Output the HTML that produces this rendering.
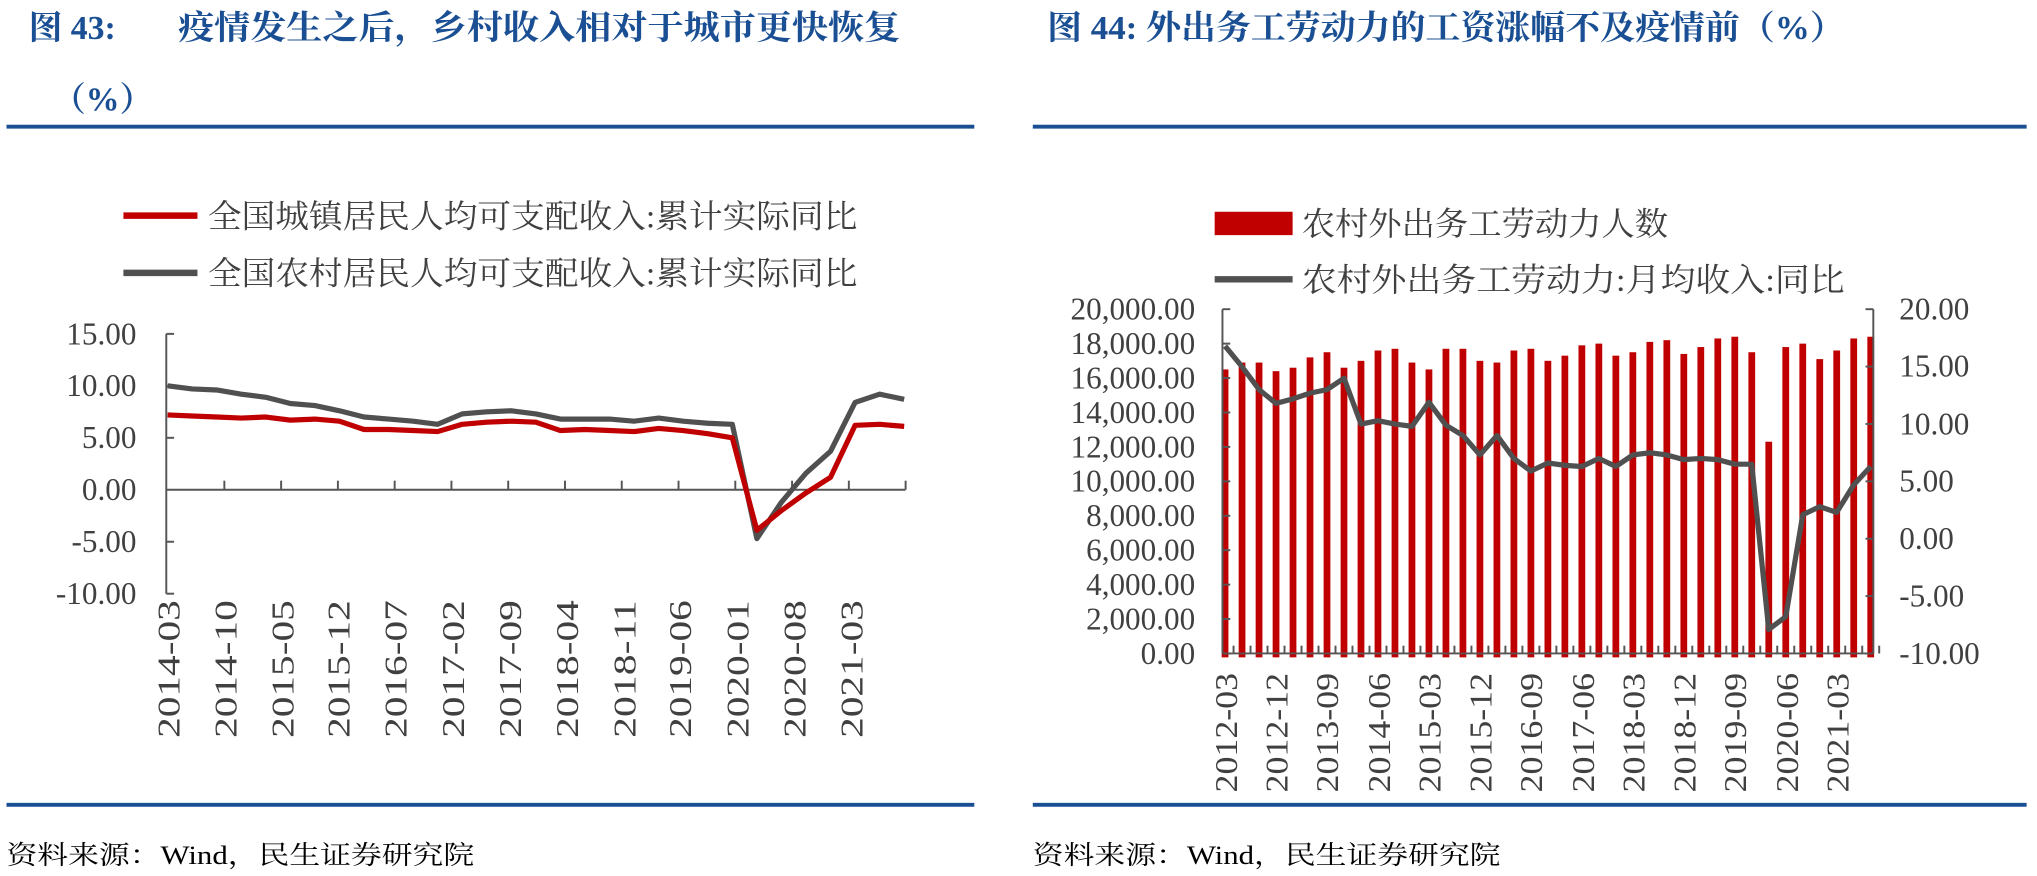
<!DOCTYPE html>
<html><head><meta charset="utf-8"><style>
html,body{margin:0;padding:0;background:#fff;}
svg{display:block;}
.t{font-family:"Liberation Serif","Noto Serif CJK SC","Noto Sans CJK SC",serif;font-weight:bold;fill:#1a4f94;}
.n{font-family:"Liberation Serif",serif;fill:#404040;font-size:24px;}
.c{font-family:"Liberation Serif","Noto Serif CJK SC","Noto Sans CJK SC",serif;fill:#404040;}
.s{font-family:"Liberation Serif","Noto Serif CJK SC","Noto Sans CJK SC",serif;fill:#000;font-size:20px;}
</style></head><body>
<svg width="2037" height="876" viewBox="0 0 1568 674.3" preserveAspectRatio="none" xmlns="http://www.w3.org/2000/svg">
<text class="t" x="22" y="30" font-size="26">图 43:</text>
<text class="t" x="137" y="30" font-size="26" textLength="556" lengthAdjust="spacingAndGlyphs">疫情发生之后，乡村收入相对于城市更快恢复</text>
<text class="t" x="40" y="85" font-size="26">（%）</text>
<rect x="5" y="96" width="745" height="3" fill="#1a4f94"/>
<text class="t" x="806" y="30" font-size="26" textLength="614" lengthAdjust="spacingAndGlyphs">图 44: 外出务工劳动力的工资涨幅不及疫情前（%）</text>
<rect x="795" y="96" width="765" height="3" fill="#1a4f94"/>
<rect x="5" y="618" width="745" height="3" fill="#1a4f94"/>
<rect x="795" y="618" width="765" height="3" fill="#1a4f94"/>
<text class="s" x="5" y="665" textLength="360" lengthAdjust="spacingAndGlyphs">资料来源：Wind，民生证券研究院</text>
<text class="s" x="795" y="665" textLength="360" lengthAdjust="spacingAndGlyphs">资料来源：Wind，民生证券研究院</text>

<line x1="95" y1="166" x2="152" y2="166" stroke="#c00000" stroke-width="5"/>
<text class="c" x="160" y="175" font-size="25" textLength="500" lengthAdjust="spacingAndGlyphs">全国城镇居民人均可支配收入:累计实际同比</text>
<line x1="95" y1="210" x2="152" y2="210" stroke="#505050" stroke-width="5"/>
<text class="c" x="160" y="219" font-size="25" textLength="500" lengthAdjust="spacingAndGlyphs">全国农村居民人均可支配收入:累计实际同比</text>

<g stroke="#555" stroke-width="1.5" fill="none">
<line x1="128" y1="257" x2="128" y2="457"/>
<line x1="128" y1="257" x2="134" y2="257"/><line x1="128" y1="297" x2="134" y2="297"/><line x1="128" y1="337" x2="134" y2="337"/><line x1="128" y1="417" x2="134" y2="417"/><line x1="128" y1="457" x2="134" y2="457"/>
<line x1="128" y1="377" x2="697" y2="377"/>
</g>
<g id="lticks" stroke="#555" stroke-width="1.5"></g>
<g class="n" text-anchor="end">
<text x="105" y="265">15.00</text><text x="105" y="305">10.00</text><text x="105" y="345">5.00</text><text x="105" y="385">0.00</text><text x="105" y="425">-5.00</text><text x="105" y="465">-10.00</text>
</g>
<g class="n">
<text transform="translate(138,568) rotate(-90)" textLength="106" lengthAdjust="spacingAndGlyphs">2014-03</text>
<text transform="translate(182,568) rotate(-90)" textLength="106" lengthAdjust="spacingAndGlyphs">2014-10</text>
<text transform="translate(226,568) rotate(-90)" textLength="106" lengthAdjust="spacingAndGlyphs">2015-05</text>
<text transform="translate(269,568) rotate(-90)" textLength="106" lengthAdjust="spacingAndGlyphs">2015-12</text>
<text transform="translate(313,568) rotate(-90)" textLength="106" lengthAdjust="spacingAndGlyphs">2016-07</text>
<text transform="translate(357,568) rotate(-90)" textLength="106" lengthAdjust="spacingAndGlyphs">2017-02</text>
<text transform="translate(401,568) rotate(-90)" textLength="106" lengthAdjust="spacingAndGlyphs">2017-09</text>
<text transform="translate(445,568) rotate(-90)" textLength="106" lengthAdjust="spacingAndGlyphs">2018-04</text>
<text transform="translate(489,568) rotate(-90)" textLength="106" lengthAdjust="spacingAndGlyphs">2018-11</text>
<text transform="translate(532,568) rotate(-90)" textLength="106" lengthAdjust="spacingAndGlyphs">2019-06</text>
<text transform="translate(576,568) rotate(-90)" textLength="106" lengthAdjust="spacingAndGlyphs">2020-01</text>
<text transform="translate(620,568) rotate(-90)" textLength="106" lengthAdjust="spacingAndGlyphs">2020-08</text>
<text transform="translate(664,568) rotate(-90)" textLength="106" lengthAdjust="spacingAndGlyphs">2021-03</text>
</g>
<polyline id="gl" fill="none" stroke="#505050" stroke-width="4" stroke-linejoin="round"/>
<polyline id="rl" fill="none" stroke="#c00000" stroke-width="4" stroke-linejoin="round"/>

<rect x="935" y="163" width="60" height="18" fill="#c00000"/>
<text class="c" x="1002" y="181" font-size="25" textLength="282" lengthAdjust="spacingAndGlyphs">农村外出务工劳动力人数</text>
<line x1="935" y1="215" x2="995" y2="215" stroke="#505050" stroke-width="5"/>
<text class="c" x="1002" y="224" font-size="25" textLength="418" lengthAdjust="spacingAndGlyphs">农村外出务工劳动力:月均收入:同比</text>

<g id="bars" fill="#c00000"></g>
<g stroke="#555" stroke-width="1.5" fill="none">
<line x1="941" y1="238" x2="941" y2="503"/>
<line x1="1442" y1="238" x2="1442" y2="503"/>
<line x1="941" y1="503" x2="1442" y2="503"/>
</g>
<g id="rticks" stroke="#555" stroke-width="1.5"></g>
<polyline id="wl" fill="none" stroke="#505050" stroke-width="4" stroke-linejoin="round"/>
<g class="n" text-anchor="end">
<text x="920" y="246">20,000.00</text><text x="920" y="272.5">18,000.00</text><text x="920" y="299">16,000.00</text><text x="920" y="325.5">14,000.00</text><text x="920" y="352">12,000.00</text><text x="920" y="378.5">10,000.00</text><text x="920" y="405">8,000.00</text><text x="920" y="431.5">6,000.00</text><text x="920" y="458">4,000.00</text><text x="920" y="484.5">2,000.00</text><text x="920" y="511">0.00</text>
</g>
<g class="n">
<text x="1462" y="246">20.00</text><text x="1462" y="290">15.00</text><text x="1462" y="334.5">10.00</text><text x="1462" y="378.5">5.00</text><text x="1462" y="422.5">0.00</text><text x="1462" y="467">-5.00</text><text x="1462" y="511">-10.00</text>
</g>
<g class="n">
<text transform="translate(952,610) rotate(-90)" textLength="92" lengthAdjust="spacingAndGlyphs">2012-03</text>
<text transform="translate(991,610) rotate(-90)" textLength="92" lengthAdjust="spacingAndGlyphs">2012-12</text>
<text transform="translate(1030,610) rotate(-90)" textLength="92" lengthAdjust="spacingAndGlyphs">2013-09</text>
<text transform="translate(1070,610) rotate(-90)" textLength="92" lengthAdjust="spacingAndGlyphs">2014-06</text>
<text transform="translate(1109,610) rotate(-90)" textLength="92" lengthAdjust="spacingAndGlyphs">2015-03</text>
<text transform="translate(1148,610) rotate(-90)" textLength="92" lengthAdjust="spacingAndGlyphs">2015-12</text>
<text transform="translate(1187,610) rotate(-90)" textLength="92" lengthAdjust="spacingAndGlyphs">2016-09</text>
<text transform="translate(1227,610) rotate(-90)" textLength="92" lengthAdjust="spacingAndGlyphs">2017-06</text>
<text transform="translate(1266,610) rotate(-90)" textLength="92" lengthAdjust="spacingAndGlyphs">2018-03</text>
<text transform="translate(1305,610) rotate(-90)" textLength="92" lengthAdjust="spacingAndGlyphs">2018-12</text>
<text transform="translate(1344,610) rotate(-90)" textLength="92" lengthAdjust="spacingAndGlyphs">2019-09</text>
<text transform="translate(1384,610) rotate(-90)" textLength="92" lengthAdjust="spacingAndGlyphs">2020-06</text>
<text transform="translate(1423,610) rotate(-90)" textLength="92" lengthAdjust="spacingAndGlyphs">2021-03</text>
</g>
</svg>
<script>
(function(){
var NS="http://www.w3.org/2000/svg";
var g=[10.0,9.7,9.6,9.2,8.9,8.3,8.1,7.6,7.0,6.8,6.6,6.3,7.3,7.5,7.6,7.3,6.8,6.8,6.8,6.6,6.9,6.6,6.4,6.3,-4.7,-1.2,1.6,3.7,8.4,9.2,8.7];
var r=[7.2,7.1,7.0,6.9,7.0,6.7,6.8,6.6,5.8,5.8,5.7,5.6,6.3,6.5,6.6,6.5,5.7,5.8,5.7,5.6,5.9,5.7,5.4,5.0,-3.9,-2.0,-0.3,1.2,6.2,6.3,6.1];
function pts(a){return a.map(function(v,i){return (129+i*18.9).toFixed(1)+","+(377-v*8).toFixed(1);}).join(" ");}
document.getElementById("gl").setAttribute("points",pts(g));
document.getElementById("rl").setAttribute("points",pts(r));
var lt=document.getElementById("lticks");
for(var i=1;i<=13;i++){var x=129+i*43.7;var l=document.createElementNS(NS,"line");l.setAttribute("x1",x);l.setAttribute("x2",x);l.setAttribute("y1",370);l.setAttribute("y2",377);lt.appendChild(l);}
var b=[16.5,16.9,16.9,16.4,16.6,17.2,17.5,16.6,17.0,17.6,17.7,16.9,16.5,17.7,17.7,17.0,16.9,17.6,17.7,17.0,17.3,17.9,18.0,17.3,17.5,18.1,18.2,17.4,17.8,18.3,18.4,17.5,12.3,17.8,18.0,17.1,17.6,18.3,18.4];
var w=[16.8,15.0,13.0,11.8,12.2,12.7,13.0,14.0,10.0,10.3,10.0,9.8,11.9,9.9,9.0,7.3,9.0,7.0,5.9,6.6,6.4,6.3,7.0,6.3,7.3,7.5,7.3,6.9,7.0,6.9,6.5,6.5,-7.9,-6.8,2.1,2.8,2.3,4.7,6.3];
var bg=document.getElementById("bars");var step=(1440-943)/38;
b.forEach(function(v,i){var x=943+i*step;var h=v*13.25;var rc=document.createElementNS(NS,"rect");rc.setAttribute("x",x-2.6);rc.setAttribute("width",5.2);rc.setAttribute("y",503-h);rc.setAttribute("height",h+3);bg.appendChild(rc);});
document.getElementById("wl").setAttribute("points",w.map(function(v,i){return (943+i*step).toFixed(1)+","+(414.7-v*8.83).toFixed(1);}).join(" "));
var rt=document.getElementById("rticks");
for(var k=0;k<=10;k++){var y=238+k*26.5;var l=document.createElementNS(NS,"line");l.setAttribute("x1",941);l.setAttribute("x2",947);l.setAttribute("y1",y);l.setAttribute("y2",y);rt.appendChild(l);}
for(var k=0;k<=6;k++){var y=238+k*44.17;var l=document.createElementNS(NS,"line");l.setAttribute("x1",1436);l.setAttribute("x2",1442);l.setAttribute("y1",y);l.setAttribute("y2",y);rt.appendChild(l);}
for(var k=0;k<39;k++){var x=943+(k+0.5)*step;var l=document.createElementNS(NS,"line");l.setAttribute("x1",x);l.setAttribute("x2",x);l.setAttribute("y1",497);l.setAttribute("y2",503);rt.appendChild(l);}
})();
</script>
</body></html>
